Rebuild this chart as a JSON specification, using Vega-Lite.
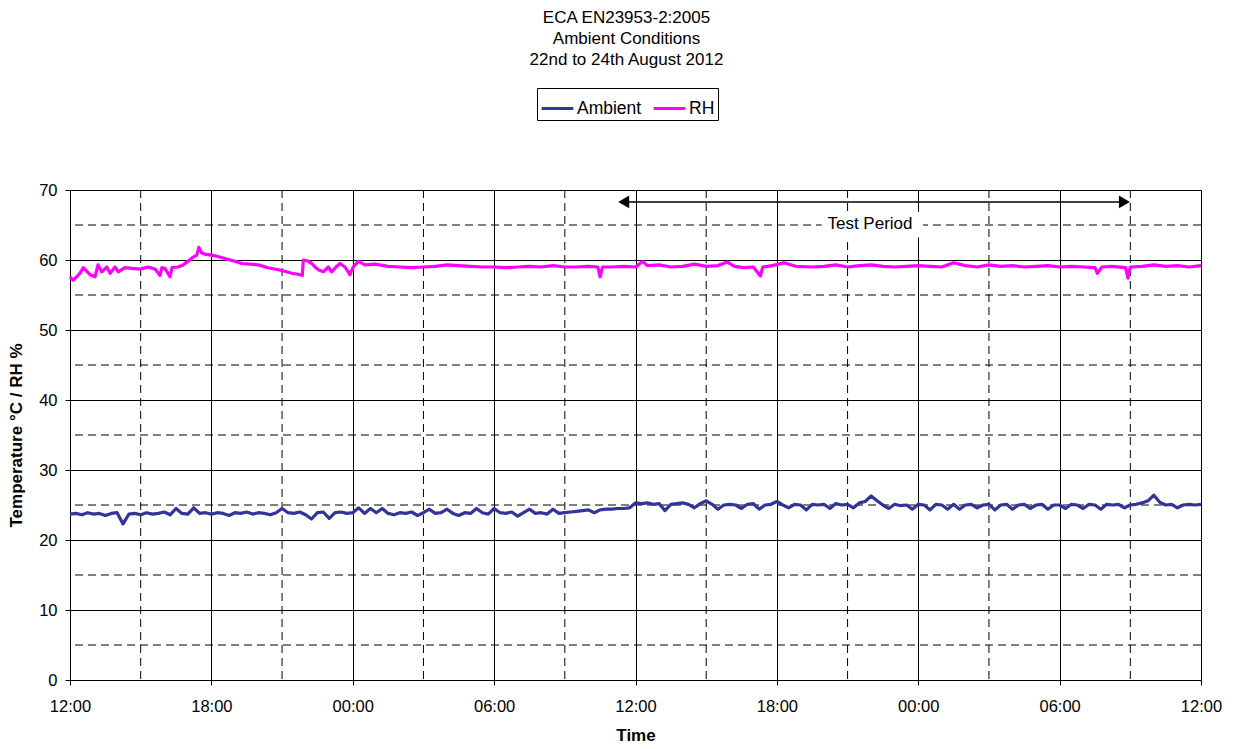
{
  "$schema": "https://vega.github.io/schema/vega-lite/v6.json",
  "width": 1131,
  "height": 490,
  "autosize": {"type": "none"},
  "padding": {"left": 70, "top": 190, "right": 33, "bottom": 69},
  "background": "white",
  "title": {
    "text": ["ECA EN23953-2:2005", "Ambient Conditions", "22nd to 24th August 2012"],
    "fontSize": 17, "fontWeight": "normal", "font": "Liberation Sans", "lineHeight": 21,
    "anchor": "middle", "frame": "group", "dx": -9, "offset": 19, "color": "#000"
  },
  "config": {
    "view": {"stroke": "#808080", "strokeWidth": 1},
    "font": "Liberation Sans",
    "axis": {"labelFont": "Liberation Sans", "titleFont": "Liberation Sans", "labelColor": "#000", "titleColor": "#000", "domainColor": "#000", "tickColor": "#000", "gridColor": "#000", "gridOpacity": 1, "gridWidth": 1, "labelFontSize": 16.5, "titleFontSize": 17, "titleFontWeight": "bold", "tickSize": 5}
  },
  "datasets": {
    "lines": [
      {"h":0,"s":"Ambient","v":23.7},{"h":0.25,"s":"Ambient","v":23.8},{"h":0.5,"s":"Ambient","v":23.6},{"h":0.75,"s":"Ambient","v":23.9},
      {"h":1,"s":"Ambient","v":23.7},{"h":1.25,"s":"Ambient","v":23.8},{"h":1.5,"s":"Ambient","v":23.5},{"h":1.75,"s":"Ambient","v":23.8},
      {"h":2,"s":"Ambient","v":23.9},{"h":2.25,"s":"Ambient","v":22.3},{"h":2.5,"s":"Ambient","v":23.7},{"h":2.75,"s":"Ambient","v":23.8},
      {"h":3,"s":"Ambient","v":23.6},{"h":3.25,"s":"Ambient","v":23.9},{"h":3.5,"s":"Ambient","v":23.7},{"h":3.75,"s":"Ambient","v":23.8},
      {"h":4,"s":"Ambient","v":24.0},{"h":4.25,"s":"Ambient","v":23.6},{"h":4.5,"s":"Ambient","v":24.5},{"h":4.75,"s":"Ambient","v":23.8},
      {"h":5,"s":"Ambient","v":23.7},{"h":5.25,"s":"Ambient","v":24.6},{"h":5.5,"s":"Ambient","v":23.8},{"h":5.75,"s":"Ambient","v":23.9},
      {"h":6,"s":"Ambient","v":23.7},{"h":6.25,"s":"Ambient","v":23.9},{"h":6.5,"s":"Ambient","v":23.8},{"h":6.75,"s":"Ambient","v":23.5},
      {"h":7,"s":"Ambient","v":23.9},{"h":7.25,"s":"Ambient","v":23.8},{"h":7.5,"s":"Ambient","v":24.0},{"h":7.75,"s":"Ambient","v":23.7},
      {"h":8,"s":"Ambient","v":23.9},{"h":8.25,"s":"Ambient","v":23.8},{"h":8.5,"s":"Ambient","v":23.6},{"h":8.75,"s":"Ambient","v":23.9},
      {"h":9,"s":"Ambient","v":24.5},{"h":9.25,"s":"Ambient","v":23.9},{"h":9.5,"s":"Ambient","v":23.8},{"h":9.75,"s":"Ambient","v":24.0},
      {"h":10,"s":"Ambient","v":23.6},{"h":10.25,"s":"Ambient","v":23.0},{"h":10.5,"s":"Ambient","v":23.9},{"h":10.75,"s":"Ambient","v":24.0},
      {"h":11,"s":"Ambient","v":23.1},{"h":11.25,"s":"Ambient","v":23.9},{"h":11.5,"s":"Ambient","v":24.0},{"h":11.75,"s":"Ambient","v":23.8},
      {"h":12,"s":"Ambient","v":23.9},{"h":12.25,"s":"Ambient","v":24.6},{"h":12.5,"s":"Ambient","v":23.8},{"h":12.75,"s":"Ambient","v":24.5},
      {"h":13,"s":"Ambient","v":23.9},{"h":13.25,"s":"Ambient","v":24.5},{"h":13.5,"s":"Ambient","v":23.8},{"h":13.75,"s":"Ambient","v":23.6},
      {"h":14,"s":"Ambient","v":23.9},{"h":14.25,"s":"Ambient","v":23.8},{"h":14.5,"s":"Ambient","v":24.0},{"h":14.75,"s":"Ambient","v":23.5},
      {"h":15,"s":"Ambient","v":23.9},{"h":15.25,"s":"Ambient","v":24.4},{"h":15.5,"s":"Ambient","v":23.8},{"h":15.75,"s":"Ambient","v":23.9},
      {"h":16,"s":"Ambient","v":24.4},{"h":16.25,"s":"Ambient","v":23.8},{"h":16.5,"s":"Ambient","v":23.5},{"h":16.75,"s":"Ambient","v":23.9},
      {"h":17,"s":"Ambient","v":23.8},{"h":17.25,"s":"Ambient","v":24.5},{"h":17.5,"s":"Ambient","v":23.9},{"h":17.75,"s":"Ambient","v":23.7},
      {"h":18,"s":"Ambient","v":24.5},{"h":18.25,"s":"Ambient","v":23.9},{"h":18.5,"s":"Ambient","v":23.8},{"h":18.75,"s":"Ambient","v":24.0},
      {"h":19,"s":"Ambient","v":23.4},{"h":19.25,"s":"Ambient","v":23.9},{"h":19.5,"s":"Ambient","v":24.4},{"h":19.75,"s":"Ambient","v":23.8},
      {"h":20,"s":"Ambient","v":23.9},{"h":20.25,"s":"Ambient","v":23.7},{"h":20.5,"s":"Ambient","v":24.4},{"h":20.75,"s":"Ambient","v":23.8},
      {"h":21,"s":"Ambient","v":23.9},{"h":21.25,"s":"Ambient","v":24.0},{"h":21.5,"s":"Ambient","v":24.1},{"h":21.75,"s":"Ambient","v":24.2},
      {"h":22,"s":"Ambient","v":24.3},{"h":22.25,"s":"Ambient","v":23.9},{"h":22.5,"s":"Ambient","v":24.3},{"h":22.75,"s":"Ambient","v":24.4},
      {"h":23,"s":"Ambient","v":24.4},{"h":23.25,"s":"Ambient","v":24.5},{"h":23.5,"s":"Ambient","v":24.5},{"h":23.75,"s":"Ambient","v":24.6},
      {"h":24,"s":"Ambient","v":25.3},{"h":24.25,"s":"Ambient","v":25.2},{"h":24.5,"s":"Ambient","v":25.3},{"h":24.75,"s":"Ambient","v":25.1},
      {"h":25,"s":"Ambient","v":25.2},{"h":25.25,"s":"Ambient","v":24.2},{"h":25.5,"s":"Ambient","v":25.1},{"h":25.75,"s":"Ambient","v":25.2},
      {"h":26,"s":"Ambient","v":25.3},{"h":26.25,"s":"Ambient","v":25.1},{"h":26.5,"s":"Ambient","v":24.6},{"h":26.75,"s":"Ambient","v":25.2},
      {"h":27,"s":"Ambient","v":25.6},{"h":27.25,"s":"Ambient","v":25.1},{"h":27.5,"s":"Ambient","v":24.4},{"h":27.75,"s":"Ambient","v":25.0},
      {"h":28,"s":"Ambient","v":25.1},{"h":28.25,"s":"Ambient","v":25.0},{"h":28.5,"s":"Ambient","v":24.5},{"h":28.75,"s":"Ambient","v":25.1},
      {"h":29,"s":"Ambient","v":25.2},{"h":29.25,"s":"Ambient","v":24.4},{"h":29.5,"s":"Ambient","v":25.0},{"h":29.75,"s":"Ambient","v":25.1},
      {"h":30,"s":"Ambient","v":25.5},{"h":30.25,"s":"Ambient","v":25.0},{"h":30.5,"s":"Ambient","v":24.6},{"h":30.75,"s":"Ambient","v":25.1},
      {"h":31,"s":"Ambient","v":25.0},{"h":31.25,"s":"Ambient","v":24.3},{"h":31.5,"s":"Ambient","v":25.1},{"h":31.75,"s":"Ambient","v":25.0},
      {"h":32,"s":"Ambient","v":25.1},{"h":32.25,"s":"Ambient","v":24.5},{"h":32.5,"s":"Ambient","v":25.2},{"h":32.75,"s":"Ambient","v":25.0},
      {"h":33,"s":"Ambient","v":25.1},{"h":33.25,"s":"Ambient","v":24.6},{"h":33.5,"s":"Ambient","v":25.3},{"h":33.75,"s":"Ambient","v":25.5},
      {"h":34,"s":"Ambient","v":26.3},{"h":34.25,"s":"Ambient","v":25.6},{"h":34.5,"s":"Ambient","v":25.0},{"h":34.75,"s":"Ambient","v":24.5},
      {"h":35,"s":"Ambient","v":25.1},{"h":35.25,"s":"Ambient","v":24.9},{"h":35.5,"s":"Ambient","v":25.0},{"h":35.75,"s":"Ambient","v":24.4},
      {"h":36,"s":"Ambient","v":25.1},{"h":36.25,"s":"Ambient","v":25.0},{"h":36.5,"s":"Ambient","v":24.3},{"h":36.75,"s":"Ambient","v":25.1},
      {"h":37,"s":"Ambient","v":25.0},{"h":37.25,"s":"Ambient","v":24.4},{"h":37.5,"s":"Ambient","v":25.1},{"h":37.75,"s":"Ambient","v":24.4},
      {"h":38,"s":"Ambient","v":25.0},{"h":38.25,"s":"Ambient","v":25.1},{"h":38.5,"s":"Ambient","v":24.6},{"h":38.75,"s":"Ambient","v":25.0},
      {"h":39,"s":"Ambient","v":25.1},{"h":39.25,"s":"Ambient","v":24.3},{"h":39.5,"s":"Ambient","v":25.0},{"h":39.75,"s":"Ambient","v":25.1},
      {"h":40,"s":"Ambient","v":24.4},{"h":40.25,"s":"Ambient","v":25.0},{"h":40.5,"s":"Ambient","v":25.1},{"h":40.75,"s":"Ambient","v":24.5},
      {"h":41,"s":"Ambient","v":25.0},{"h":41.25,"s":"Ambient","v":25.1},{"h":41.5,"s":"Ambient","v":24.4},{"h":41.75,"s":"Ambient","v":25.0},
      {"h":42,"s":"Ambient","v":25.0},{"h":42.25,"s":"Ambient","v":24.5},{"h":42.5,"s":"Ambient","v":25.1},{"h":42.75,"s":"Ambient","v":25.0},
      {"h":43,"s":"Ambient","v":24.5},{"h":43.25,"s":"Ambient","v":25.1},{"h":43.5,"s":"Ambient","v":25.0},{"h":43.75,"s":"Ambient","v":24.4},
      {"h":44,"s":"Ambient","v":25.1},{"h":44.25,"s":"Ambient","v":25.0},{"h":44.5,"s":"Ambient","v":25.1},{"h":44.75,"s":"Ambient","v":24.6},
      {"h":45,"s":"Ambient","v":25.0},{"h":45.25,"s":"Ambient","v":25.1},{"h":45.5,"s":"Ambient","v":25.3},{"h":45.75,"s":"Ambient","v":25.6},
      {"h":46,"s":"Ambient","v":26.4},{"h":46.25,"s":"Ambient","v":25.4},{"h":46.5,"s":"Ambient","v":25.0},{"h":46.75,"s":"Ambient","v":25.1},
      {"h":47,"s":"Ambient","v":24.6},{"h":47.25,"s":"Ambient","v":25.0},{"h":47.5,"s":"Ambient","v":25.1},{"h":47.75,"s":"Ambient","v":25.0},
      {"h":48,"s":"Ambient","v":25.1},
      {"h":0,"s":"RH","v":57.6},{"h":0.13,"s":"RH","v":57.1},{"h":0.42,"s":"RH","v":58.1},{"h":0.56,"s":"RH","v":58.9},
      {"h":0.85,"s":"RH","v":57.9},{"h":1.06,"s":"RH","v":57.6},{"h":1.19,"s":"RH","v":59.3},{"h":1.35,"s":"RH","v":58.3},
      {"h":1.56,"s":"RH","v":59.0},{"h":1.7,"s":"RH","v":58.1},{"h":1.91,"s":"RH","v":59.0},{"h":2.05,"s":"RH","v":58.3},
      {"h":2.33,"s":"RH","v":58.9},{"h":2.62,"s":"RH","v":58.8},{"h":2.97,"s":"RH","v":58.7},{"h":3.31,"s":"RH","v":59.0},
      {"h":3.61,"s":"RH","v":58.7},{"h":3.82,"s":"RH","v":57.8},{"h":3.9,"s":"RH","v":58.9},{"h":4.03,"s":"RH","v":58.8},
      {"h":4.24,"s":"RH","v":57.6},{"h":4.33,"s":"RH","v":58.9},{"h":4.58,"s":"RH","v":59.0},{"h":4.8,"s":"RH","v":59.3},
      {"h":5.0,"s":"RH","v":59.8},{"h":5.18,"s":"RH","v":60.3},{"h":5.38,"s":"RH","v":60.7},{"h":5.47,"s":"RH","v":61.8},
      {"h":5.59,"s":"RH","v":61.0},{"h":5.77,"s":"RH","v":60.8},{"h":6.01,"s":"RH","v":60.7},{"h":6.28,"s":"RH","v":60.5},
      {"h":6.58,"s":"RH","v":60.2},{"h":6.92,"s":"RH","v":59.9},{"h":7.29,"s":"RH","v":59.5},{"h":7.64,"s":"RH","v":59.4},
      {"h":7.99,"s":"RH","v":59.3},{"h":8.4,"s":"RH","v":58.9},{"h":8.84,"s":"RH","v":58.6},{"h":9.12,"s":"RH","v":58.4},
      {"h":9.41,"s":"RH","v":58.1},{"h":9.63,"s":"RH","v":58.0},{"h":9.86,"s":"RH","v":57.8},{"h":9.9,"s":"RH","v":60.0},
      {"h":10.06,"s":"RH","v":59.9},{"h":10.26,"s":"RH","v":59.5},{"h":10.4,"s":"RH","v":59.0},{"h":10.54,"s":"RH","v":58.6},
      {"h":10.75,"s":"RH","v":58.3},{"h":10.96,"s":"RH","v":59.0},{"h":11.1,"s":"RH","v":58.3},{"h":11.29,"s":"RH","v":59.0},
      {"h":11.46,"s":"RH","v":59.5},{"h":11.67,"s":"RH","v":59.0},{"h":11.88,"s":"RH","v":57.9},{"h":12.02,"s":"RH","v":59.0},
      {"h":12.24,"s":"RH","v":59.8},{"h":12.52,"s":"RH","v":59.3},{"h":12.94,"s":"RH","v":59.4},{"h":13.5,"s":"RH","v":59.1},
      {"h":14,"s":"RH","v":59.0},{"h":14.5,"s":"RH","v":58.9},{"h":15,"s":"RH","v":59.0},{"h":15.5,"s":"RH","v":59.1},
      {"h":16,"s":"RH","v":59.3},{"h":16.5,"s":"RH","v":59.2},{"h":17,"s":"RH","v":59.1},{"h":17.5,"s":"RH","v":59.0},
      {"h":18,"s":"RH","v":59.0},{"h":18.5,"s":"RH","v":58.9},{"h":19,"s":"RH","v":59.0},{"h":19.5,"s":"RH","v":59.1},
      {"h":20,"s":"RH","v":59.0},{"h":20.5,"s":"RH","v":59.2},{"h":21,"s":"RH","v":59.0},{"h":21.5,"s":"RH","v":59.0},
      {"h":22,"s":"RH","v":59.1},{"h":22.4,"s":"RH","v":59.0},{"h":22.5,"s":"RH","v":57.6},{"h":22.6,"s":"RH","v":59.0},
      {"h":23,"s":"RH","v":59.0},{"h":23.5,"s":"RH","v":59.1},{"h":24,"s":"RH","v":59.0},{"h":24.3,"s":"RH","v":59.8},
      {"h":24.5,"s":"RH","v":59.2},{"h":25,"s":"RH","v":59.3},{"h":25.5,"s":"RH","v":59.0},{"h":26,"s":"RH","v":59.1},
      {"h":26.5,"s":"RH","v":59.4},{"h":27,"s":"RH","v":59.1},{"h":27.5,"s":"RH","v":59.2},{"h":27.9,"s":"RH","v":59.7},
      {"h":28.2,"s":"RH","v":59.1},{"h":28.6,"s":"RH","v":58.9},{"h":29,"s":"RH","v":59.0},{"h":29.3,"s":"RH","v":57.7},
      {"h":29.4,"s":"RH","v":59.0},{"h":29.8,"s":"RH","v":59.2},{"h":30.3,"s":"RH","v":59.6},{"h":30.8,"s":"RH","v":59.1},
      {"h":31.5,"s":"RH","v":59.0},{"h":32,"s":"RH","v":59.1},{"h":32.5,"s":"RH","v":59.3},{"h":33,"s":"RH","v":59.0},
      {"h":33.5,"s":"RH","v":59.2},{"h":34,"s":"RH","v":59.3},{"h":34.5,"s":"RH","v":59.1},{"h":35,"s":"RH","v":59.0},
      {"h":35.5,"s":"RH","v":59.1},{"h":36,"s":"RH","v":59.2},{"h":36.5,"s":"RH","v":59.1},{"h":37,"s":"RH","v":59.0},
      {"h":37.5,"s":"RH","v":59.6},{"h":38,"s":"RH","v":59.2},{"h":38.5,"s":"RH","v":59.0},{"h":39,"s":"RH","v":59.3},
      {"h":39.5,"s":"RH","v":59.1},{"h":40,"s":"RH","v":59.2},{"h":40.5,"s":"RH","v":59.0},{"h":41,"s":"RH","v":59.1},
      {"h":41.5,"s":"RH","v":59.2},{"h":42,"s":"RH","v":59.0},{"h":42.5,"s":"RH","v":59.1},{"h":43,"s":"RH","v":59.0},
      {"h":43.5,"s":"RH","v":58.9},{"h":43.6,"s":"RH","v":58.1},{"h":43.8,"s":"RH","v":59.0},{"h":44.2,"s":"RH","v":59.1},
      {"h":44.8,"s":"RH","v":58.9},{"h":44.9,"s":"RH","v":57.4},{"h":45,"s":"RH","v":59.0},{"h":45.5,"s":"RH","v":59.1},
      {"h":46,"s":"RH","v":59.3},{"h":46.5,"s":"RH","v":59.1},{"h":47,"s":"RH","v":59.2},{"h":47.5,"s":"RH","v":59.0},
      {"h":48,"s":"RH","v":59.2}
    ],
    "vgrid": [{"h":3},{"h":9},{"h":15},{"h":21},{"h":27},{"h":33},{"h":39},{"h":45}],
    "hgrid": [{"v":5},{"v":15},{"v":25},{"v":35},{"v":45},{"v":55},{"v":65}],
    "arrowline": [{"h":23.5,"h2":44.75,"v":68.3}],
    "heads": [{"h":23.5,"v":68.3,"sh":"triangle-left"},{"h":44.75,"v":68.3,"sh":"triangle-right"}],
    "box": [{"h":31.9,"h2":36.2,"v":63.2,"v2":66.9}],
    "label": [{"h":33.95,"v":65.1,"t":"Test Period"}]
  },
  "layer": [
    {
      "data": {"name": "vgrid"},
      "mark": {"type": "rule", "color": "#000", "strokeDash": [8, 5], "strokeWidth": 1},
      "encoding": {
        "x": {"field": "h", "type": "quantitative", "title": "Time"}
      }
    },
    {
      "data": {"name": "hgrid"},
      "mark": {"type": "rule", "color": "#000", "strokeDash": [8, 5], "strokeWidth": 1},
      "encoding": {
        "y": {"field": "v", "type": "quantitative", "title": "Temperature °C / RH %"}
      }
    },
    {
      "data": {"name": "box"},
      "mark": {"type": "rect", "fill": "white", "stroke": null},
      "encoding": {
        "x": {"field": "h", "type": "quantitative", "title": "Time"},
        "x2": {"field": "h2"},
        "y": {"field": "v", "type": "quantitative", "title": "Temperature °C / RH %"},
        "y2": {"field": "v2"}
      }
    },
    {
      "data": {"name": "lines"},
      "mark": {"type": "line", "strokeWidth": 3.2, "strokeJoin": "round"},
      "encoding": {
        "x": {
          "field": "h", "type": "quantitative",
          "scale": {"domain": [0, 48], "nice": false, "zero": false},
          "axis": {"values": [0, 6, 12, 18, 24, 30, 36, 42, 48], "labelExpr": "timeFormat(datetime(2012, 7, 22, 12 + datum.value), '%H:%M')", "grid": true, "title": "Time", "labelPadding": 13, "titlePadding": 13, "labelFlush": false}
        },
        "y": {
          "field": "v", "type": "quantitative",
          "scale": {"domain": [0, 70], "nice": false},
          "axis": {"values": [0, 10, 20, 30, 40, 50, 60, 70], "grid": true, "title": "Temperature °C / RH %", "labelPadding": 8, "titlePadding": 13}
        },
        "color": {
          "field": "s", "type": "nominal",
          "scale": {"domain": ["Ambient", "RH"], "range": ["#333399", "#FF00FF"]},
          "legend": {"orient": "none", "legendX": 467, "legendY": -102, "direction": "horizontal", "title": null, "strokeColor": "#000", "padding": 3, "symbolType": "stroke", "symbolSize": 1000, "symbolStrokeWidth": 3, "labelFontSize": 17.5, "labelFont": "Liberation Sans", "labelColor": "#000", "columnPadding": 5, "labelOffset": 2}
        }
      }
    },
    {
      "data": {"name": "arrowline"},
      "mark": {"type": "rule", "color": "#000", "strokeWidth": 1.5},
      "encoding": {
        "x": {"field": "h", "type": "quantitative", "title": "Time"},
        "x2": {"field": "h2"},
        "y": {"field": "v", "type": "quantitative", "title": "Temperature °C / RH %"}
      }
    },
    {
      "data": {"name": "heads"},
      "mark": {"type": "point", "filled": true, "color": "#000", "size": 160, "opacity": 1},
      "encoding": {
        "x": {"field": "h", "type": "quantitative", "title": "Time"},
        "y": {"field": "v", "type": "quantitative", "title": "Temperature °C / RH %"},
        "shape": {"field": "sh", "type": "nominal", "scale": null}
      }
    },
    {
      "data": {"name": "label"},
      "mark": {"type": "text", "fontSize": 17, "font": "Liberation Sans", "color": "#000", "align": "center", "baseline": "middle"},
      "encoding": {
        "x": {"field": "h", "type": "quantitative", "title": "Time"},
        "y": {"field": "v", "type": "quantitative", "title": "Temperature °C / RH %"},
        "text": {"field": "t"}
      }
    }
  ]
}
